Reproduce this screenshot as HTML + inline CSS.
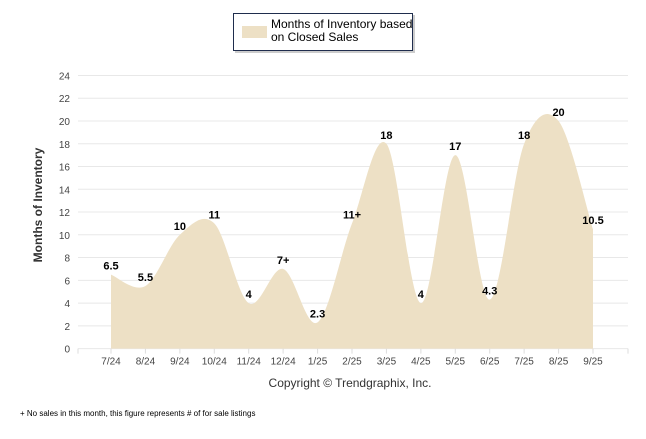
<!DOCTYPE html>
<html><head><meta charset="utf-8"><style>
body{margin:0;background:#fff;font-family:"Liberation Sans",Arial,sans-serif}
</style></head><body>
<svg width="646" height="434" viewBox="0 0 646 434" xmlns="http://www.w3.org/2000/svg">
<g>
<rect x="235" y="15" width="180" height="38" fill="#999" opacity="0.5"/>
<rect x="233.5" y="13.5" width="179" height="37" fill="#fff" stroke="#1f2d4d" stroke-width="1"/>
<rect x="242" y="26" width="25" height="12" fill="#ede0c5"/>
<text x="271" y="28" font-size="12" fill="#000">Months of Inventory based</text>
<text x="271" y="41" font-size="12" fill="#000">on Closed Sales</text>
</g>
<g id="grid"></g>
<g id="area"></g>
<g id="labels"></g>
<text transform="translate(42,205) rotate(-90)" text-anchor="middle" font-size="12" font-weight="bold" fill="#333">Months of Inventory</text>
<text x="350" y="387" text-anchor="middle" font-size="12" fill="#333">Copyright © Trendgraphix, Inc.</text>
<text x="20" y="416" font-size="8" fill="#000">+  No sales in this month, this figure represents # of for sale listings</text>
</svg>
<script>
const categories=["7/24","8/24","9/24","10/24","11/24","12/24","1/25","2/25","3/25","4/25","5/25","6/25","7/25","8/25","9/25"];
const values=[6.5,5.5,10,11,4,7,2.3,11,18,4,17,4.3,18,20,10.5];
const valueLabels=["6.5","5.5","10","11","4","7+","2.3","11+","18","4","17","4.3","18","20","10.5"];
const yTicks=[0,2,4,6,8,10,12,14,16,18,20,22,24];
const NS="http://www.w3.org/2000/svg";
const x0=111,x1=593,y0=348.6,pu=11.38;
const xs=i=>x0+i*(x1-x0)/(categories.length-1);
const ys=v=>y0-v*pu;
function mk(t,a,p){const e=document.createElementNS(NS,t);for(const k in a)e.setAttribute(k,a[k]);p.appendChild(e);return e;}
const grid=document.getElementById('grid');
yTicks.forEach(v=>{
 const l=mk('line',{x1:78,x2:628,y1:ys(v),y2:ys(v),stroke:'#e8e8e8','stroke-width':1},grid);
 
 
 const t=mk('text',{x:70,y:ys(v)+4,'text-anchor':'end','font-size':10,fill:'#444'},grid);
 t.textContent=v;
 
 
});
mk('line',{x1:78,x2:78,y1:y0,y2:y0+5,stroke:'#ddd'},grid);
mk('line',{x1:628,x2:628,y1:y0,y2:y0+5,stroke:'#ddd'},grid);
categories.forEach((c,i)=>{
 mk('line',{x1:xs(i),x2:xs(i),y1:y0,y2:y0+5,stroke:'#ddd'},grid);
 const t=mk('text',{x:xs(i),y:y0+16,'text-anchor':'middle','font-size':10,fill:'#444'},grid);
 t.textContent=c;
 
 
});
const pts=values.map((v,i)=>[xs(i),ys(v)]);
let d=`M${pts[0][0]},${y0} L${pts[0][0]},${pts[0][1]}`;
for(let i=0;i<pts.length-1;i++){
 const p0=pts[Math.max(0,i-1)],p1=pts[i],p2=pts[i+1],p3=pts[Math.min(pts.length-1,i+2)];
 const c1=[p1[0]+(p2[0]-p0[0])/6,p1[1]+(p2[1]-p0[1])/6];
 const c2=[p2[0]-(p3[0]-p1[0])/6,p2[1]-(p3[1]-p1[1])/6];
 d+=` C${c1[0]},${c1[1]} ${c2[0]},${c2[1]} ${p2[0]},${p2[1]}`;
}
d+=` L${pts[pts.length-1][0]},${y0} Z`;
const area=mk('path',{d:d,fill:'#ede0c5'},document.getElementById('area'));


const lab=document.getElementById('labels');
values.forEach((v,i)=>{
 const t=mk('text',{x:xs(i),y:ys(v)-5,'text-anchor':'middle','font-size':11,'font-weight':'bold',fill:'#000'},lab);
 t.textContent=valueLabels[i];
 
 
});
</script>
</body></html>
